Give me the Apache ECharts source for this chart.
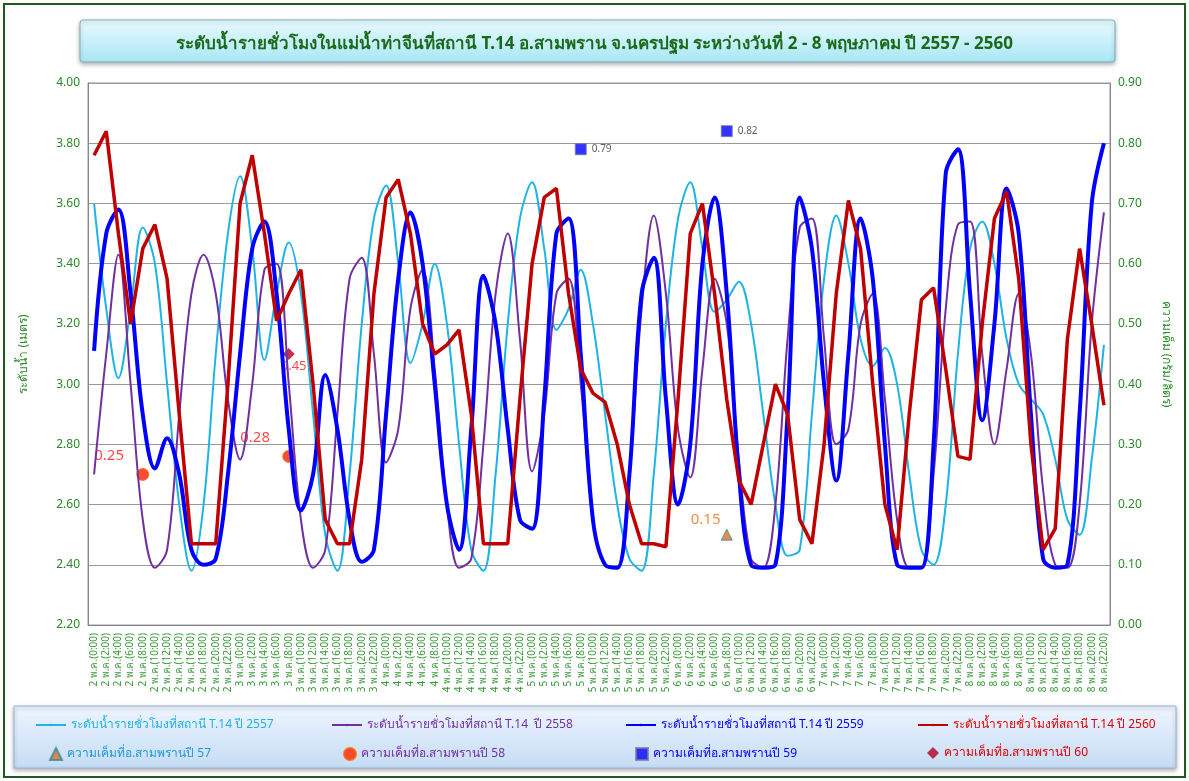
<!DOCTYPE html>
<html><head><meta charset="utf-8">
<script src="https://cdn.jsdelivr.net/npm/echarts@6/dist/echarts.min.js"></script>
<style>html,body{margin:0;padding:0;background:#fff}#c{width:1189px;height:781px}</style>
</head><body><div id="c"></div>
<script>
// วันและเวลา (แกน x)
const days = [2, 3, 4, 5, 6, 7, 8];
const hours = ['0:00','2:00','4:00','6:00','8:00','10:00','12:00','14:00','16:00','18:00','20:00','22:00'];
const categories = [];
days.forEach(d => hours.forEach(h => categories.push(d + ' พ.ค.(' + h + ')')));

// ระดับน้ำ (เมตร)
const level2557 = [3.60,3.25,3.02,3.25,3.52,3.40,3.00,2.60,2.38,2.60,3.10,3.50,3.69,3.45,3.08,3.30,3.47,3.30,2.90,2.50,2.38,2.70,3.20,3.55,3.66,3.40,3.07,3.20,3.40,3.20,2.80,2.45,2.38,2.70,3.20,3.55,3.67,3.45,3.18,3.25,3.38,3.20,2.90,2.60,2.42,2.38,2.70,3.20,3.55,3.67,3.45,3.24,3.28,3.34,3.20,2.90,2.60,2.43,2.45,2.90,3.35,3.56,3.40,3.15,3.06,3.12,3.00,2.70,2.45,2.40,2.60,3.10,3.45,3.54,3.40,3.15,3.00,2.95,2.90,2.75,2.55,2.50,2.75,3.13];
const level2558 = [2.70,3.10,3.43,3.00,2.55,2.39,2.45,2.90,3.30,3.43,3.30,2.95,2.75,3.00,3.38,3.40,3.00,2.55,2.39,2.45,2.90,3.35,3.42,3.10,2.74,2.85,3.25,3.38,3.05,2.60,2.39,2.42,2.80,3.30,3.50,3.15,2.71,2.90,3.30,3.35,3.00,2.55,2.40,2.39,2.70,3.25,3.56,3.30,2.85,2.69,3.05,3.35,3.20,2.75,2.42,2.39,2.60,3.15,3.52,3.55,3.15,2.80,2.85,3.20,3.30,2.95,2.55,2.39,2.39,2.70,3.25,3.53,3.54,3.10,2.80,3.05,3.30,3.10,2.65,2.40,2.39,2.60,3.20,3.57];
const level2559 = [3.11,3.50,3.58,3.30,2.90,2.72,2.82,2.70,2.45,2.40,2.42,2.70,3.10,3.45,3.54,3.30,2.85,2.58,2.70,3.03,2.85,2.55,2.41,2.45,2.90,3.35,3.57,3.40,3.00,2.60,2.45,2.85,3.36,3.20,2.85,2.55,2.52,2.95,3.50,3.55,3.10,2.55,2.40,2.39,2.70,3.30,3.42,2.95,2.60,2.80,3.40,3.62,3.30,2.70,2.40,2.39,2.40,2.90,3.62,3.45,3.00,2.68,3.10,3.55,3.35,2.80,2.40,2.39,2.39,2.80,3.70,3.78,3.30,2.88,3.20,3.65,3.50,2.90,2.42,2.39,2.40,2.90,3.60,3.80];
const level2560 = [3.76,3.84,3.50,3.20,3.45,3.53,3.35,2.90,2.47,2.47,2.47,3.00,3.60,3.76,3.50,3.21,3.30,3.38,3.00,2.55,2.47,2.47,2.75,3.30,3.62,3.68,3.50,3.20,3.10,3.13,3.18,2.90,2.47,2.47,2.47,2.95,3.40,3.62,3.65,3.30,3.05,2.97,2.94,2.80,2.60,2.47,2.47,2.46,2.95,3.50,3.60,3.30,2.95,2.68,2.60,2.80,3.00,2.90,2.55,2.47,2.80,3.30,3.61,3.45,3.00,2.60,2.45,2.90,3.28,3.32,3.05,2.76,2.75,3.20,3.55,3.64,3.35,2.80,2.45,2.52,3.15,3.45,3.20,2.93];

// ความเค็ม (กรัม/ลิตร) [ช่วงเวลา, ค่า]
const salt57 = [['6 พ.ค.(8:00)', 0.15]];
const salt58 = [['2 พ.ค.(8:00)', 0.25], ['3 พ.ค.(8:00)', 0.28]];
const salt59 = [['5 พ.ค.(8:00)', 0.79], ['6 พ.ค.(8:00)', 0.82]];
const salt60 = [['3 พ.ค.(8:00)', 0.45]];

const names = ['ระดับน้ำรายชั่วโมงที่สถานี T.14 ปี 2557','ระดับน้ำรายชั่วโมงที่สถานี T.14  ปี 2558','ระดับน้ำรายชั่วโมงที่สถานี T.14 ปี 2559','ระดับน้ำรายชั่วโมงที่สถานี T.14 ปี 2560',
  'ความเค็มที่อ.สามพรานปี 57','ความเค็มที่อ.สามพรานปี 58','ความเค็มที่อ.สามพรานปี 59','ความเค็มที่อ.สามพรานปี 60'];
const textColors = ['#1fb4e6','#7030a0','#0000ff','#e00000','#1f9ad8','#7030a0','#0000ff','#e00000'];
const legendLeft = [30, 326, 620, 912, 44, 338, 630, 922];

const chart = echarts.init(document.getElementById('c'));
const ff = 'Noto Sans, sans-serif';
const lineS = (name, data, color, width, smooth) => ({
  name, type: 'line', data, smooth, symbol: 'none',
  lineStyle: { color, width }, itemStyle: { color }
});
const legends = names.map((n, i) => ({
  top: i < 4 ? 714 : 742, left: legendLeft[i],
  itemWidth: i < 4 ? 30 : 12, itemHeight: i < 4 ? 3 : 12,
  data: [n], textStyle: { color: textColors[i], fontSize: 12, fontFamily: ff }
}));

chart.setOption({
  backgroundColor: '#fff',
  textStyle: { fontFamily: ff },
  graphic: [
    { type: 'rect', shape: { x: 4, y: 4, width: 1181, height: 773 }, style: { fill: 'none', stroke: '#1f5b1f', lineWidth: 2 } },
    { type: 'rect', shape: { x: 80, y: 20, width: 1035, height: 42, r: 3 }, style: {
      fill: new echarts.graphic.LinearGradient(0, 0, 0, 1, [{ offset: 0, color: '#e8fbff' }, { offset: 1, color: '#a9e6f5' }]),
      stroke: '#7fb0c0', lineWidth: 1, shadowBlur: 4, shadowColor: 'rgba(0,0,0,0.3)', shadowOffsetY: 2 } },
    { type: 'rect', shape: { x: 14, y: 706, width: 1162, height: 62 }, style: {
      fill: new echarts.graphic.LinearGradient(0, 0, 0, 1, [{ offset: 0, color: '#eef5ff' }, { offset: 1, color: '#c5dcf5' }]),
      stroke: '#98b4d4', lineWidth: 1, shadowBlur: 4, shadowColor: 'rgba(0,0,0,0.3)', shadowOffsetY: 2 } }
  ],
  title: {
    text: 'ระดับน้ำรายชั่วโมงในแม่น้ำท่าจีนที่สถานี T.14 อ.สามพราน จ.นครปฐม ระหว่างวันที่ 2 - 8 พฤษภาคม ปี 2557 - 2560',
    left: 'center', top: 31,
    textStyle: { color: '#1a6a1a', fontSize: 17, fontWeight: 'bold', fontFamily: ff }
  },
  legend: legends,
  grid: { left: 88, right: 79, top: 83, bottom: 156, show: true, borderColor: '#999', borderWidth: 1 },
  xAxis: {
    type: 'category', data: categories,
    axisLine: { lineStyle: { color: '#888' } },
    axisTick: { interval: 0, lineStyle: { color: '#888' } },
    axisLabel: { interval: 0, rotate: 90, color: '#3a9a3a', fontSize: 10 }
  },
  yAxis: [
    { type: 'value', min: 2.2, max: 4.0, interval: 0.2,
      name: 'ระดับน้ำ (เมตร)', nameLocation: 'middle', nameGap: 58, nameRotate: 90,
      nameTextStyle: { color: '#2a8a2a', fontSize: 12 },
      axisLabel: { color: '#2a8a2a', fontSize: 12, formatter: v => v.toFixed(2) },
      axisLine: { show: true, lineStyle: { color: '#888' } },
      splitLine: { lineStyle: { color: '#999' } } },
    { type: 'value', min: 0, max: 0.9, interval: 0.1,
      name: 'ความเค็ม (กรัม/ลิตร)', nameLocation: 'middle', nameGap: 50, nameRotate: -90,
      nameTextStyle: { color: '#2a8a2a', fontSize: 12 },
      axisLabel: { color: '#2a8a2a', fontSize: 12, formatter: v => v.toFixed(2) },
      axisLine: { show: true, lineStyle: { color: '#888' } },
      splitLine: { show: false } }
  ],
  series: [
    lineS(names[0], level2557, '#1fb4e6', 2, 0.35),
    lineS(names[1], level2558, '#7030a0', 2, 0.35),
    lineS(names[2], level2559, '#0000ff', 4, 0.35),
    lineS(names[3], level2560, '#c00000', 3.5, false),
    { name: names[4], type: 'scatter', yAxisIndex: 1, data: salt57, symbol: 'triangle', symbolSize: 11,
      itemStyle: { color: '#e07020', borderColor: '#3a8aa0', borderWidth: 1 },
      label: { show: true, position: [-30, -16], color: '#f07010', fontSize: 15 } },
    { name: names[5], type: 'scatter', yAxisIndex: 1, data: salt58, symbol: 'circle', symbolSize: 12,
      itemStyle: { color: '#ff2000', borderColor: '#ff6000', borderWidth: 1 },
      label: { show: true, fontSize: 15, color: '#ff1a1a', position: [-42, -20] } },
    { name: names[6], type: 'scatter', yAxisIndex: 1, data: salt59, symbol: 'rect', symbolSize: 11,
      itemStyle: { color: '#0000ff', borderColor: '#7a7aa0', borderWidth: 1 },
      label: { show: true, position: 'right', color: '#333', fontSize: 10 } },
    { name: names[7], type: 'scatter', yAxisIndex: 1, data: salt60, symbol: 'diamond', symbolSize: 12,
      itemStyle: { color: '#b00020' },
      label: { show: true, position: [-2, 12], color: '#ff1a1a', fontSize: 13 } }
  ]
});
</script></body></html>
